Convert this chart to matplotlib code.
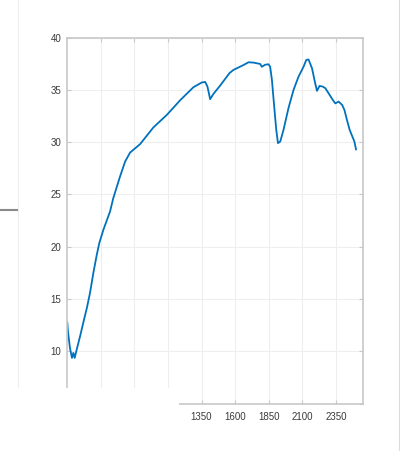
import matplotlib.pyplot as plt
from matplotlib.patches import Rectangle
from matplotlib.lines import Line2D

# spectrum trace
wavenumber = [352, 357, 372, 387, 397, 407, 422, 447, 476, 497, 521, 546, 571, 590,
              620, 670, 694, 744, 782, 819, 893, 992, 1092, 1191, 1290, 1352, 1377,
              1394, 1414, 1438, 1488, 1558, 1587, 1662, 1699, 1736, 1786, 1798, 1823,
              1848, 1860, 1873, 1890, 1905, 1918, 1935, 1959, 1996, 2034, 2071, 2108,
              2128, 2145, 2171, 2195, 2208, 2227, 2252, 2270, 2294, 2327, 2344, 2369,
              2395, 2412, 2431, 2451, 2476, 2486, 2498]
signal = [12.76, 11.9, 10.3, 9.36, 9.84, 9.36, 10.15, 11.42, 13.0, 14.1, 15.57, 17.5,
          19.2, 20.34, 21.6, 23.36, 24.64, 26.7, 28.14, 29.0, 29.8, 31.4, 32.6, 34.0,
          35.25, 35.7, 35.75, 35.3, 34.1, 34.6, 35.4, 36.6, 36.9, 37.37, 37.63, 37.6,
          37.47, 37.2, 37.4, 37.44, 37.2, 35.94, 33.4, 31.2, 29.9, 30.05, 31.16, 33.24,
          35.0, 36.26, 37.2, 37.85, 37.9, 37.06, 35.6, 34.9, 35.37, 35.3, 35.15, 34.67,
          34.0, 33.7, 33.87, 33.55, 33.07, 32.1, 31.16, 30.37, 30.05, 29.3]

xticks = [600, 850, 1100, 1350, 1600, 1850, 2100, 2350]
yticks = [5, 10, 15, 20, 25, 30, 35, 40]

W, H = 400, 451
fig = plt.figure(figsize=(W / 100, H / 100), dpi=100)
plt.rcParams['font.family'] = ['Liberation Sans', 'DejaVu Sans']

left, right, top, bottom = 67, 363, 37.5, 403.5
ax = fig.add_axes([left / W, 1 - bottom / H, (right - left) / W, (bottom - top) / H])
ax.plot(wavenumber, signal, color='#0072BD', lw=1.3)
ax.set_xlim(350, 2550)
ax.set_ylim(5, 40)
ax.set_xticks(xticks)
ax.set_yticks(yticks)
ax.grid(True, color='#eeeeee', lw=0.8)
ax.set_axisbelow(True)
for s in ax.spines.values():
    s.set_color('#c8c8c8')
    s.set_linewidth(1.2)
ax.tick_params(direction='in', length=3, width=0.8, color='#c8c8c8',
               labelcolor='#3a3a3a', labelsize=7, top=True, right=True, pad=4)
ax.tick_params(axis='x', pad=6)

# blank area over the lower left corner
fig.add_artist(Rectangle((0, 0), 179 / W, 1 - 388 / H, transform=fig.transFigure,
                         facecolor='white', edgecolor='none', zorder=10))

# window edges
fig.add_artist(Line2D([18 / W, 18 / W], [1 - 388 / H, 1], transform=fig.transFigure,
                      color='#eeeeee', lw=0.8))
fig.add_artist(Line2D([0, 17 / W], [1 - 210 / H, 1 - 210 / H], transform=fig.transFigure,
                      color='#8a8a8a', lw=1.5))
fig.add_artist(Line2D([399 / W, 399 / W], [0, 1], transform=fig.transFigure,
                      color='#dcdcdc', lw=0.8))

fig.savefig('out.png', dpi=100)
